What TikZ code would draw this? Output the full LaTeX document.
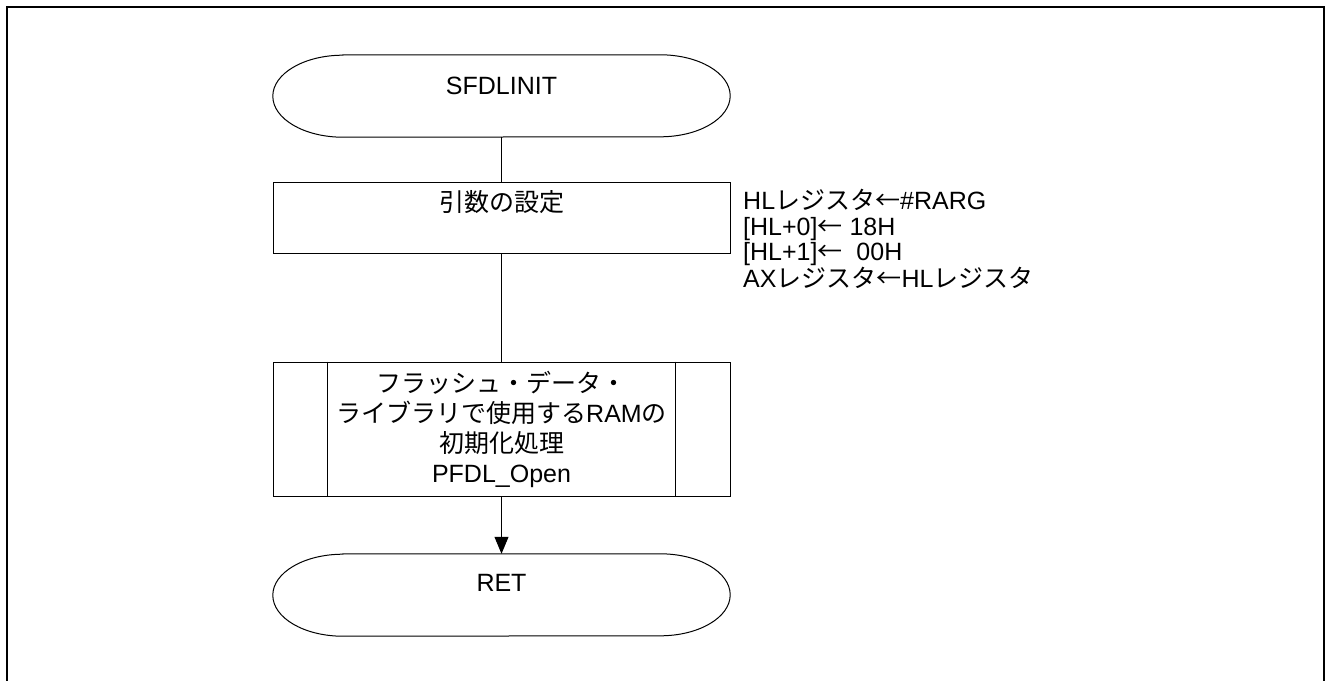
\documentclass[tikz,border=0pt]{standalone}
\usepackage{fontspec}
\setmainfont{Liberation Sans}
\newfontfamily\jp{Noto Sans CJK JP}
\usetikzlibrary{arrows.meta}

\newcommand\drawterm[1]{%
  \draw[flow] ([xshift=70pt]#1.north west) -- ([xshift=-70pt]#1.north east)
    arc[start angle=90, end angle=-90, x radius=70pt, y radius=41pt]
    -- ([xshift=70pt]#1.south west)
    arc[start angle=270, end angle=90, x radius=70pt, y radius=41pt] -- cycle;}
\newcommand\drawsubbars[1]{%
  \draw[flow] ([xshift=55pt]#1.north west) -- ([xshift=55pt]#1.south west);
  \draw[flow] ([xshift=-55pt]#1.north east) -- ([xshift=-55pt]#1.south east);}

\tikzset{
  flow/.style={line width=1pt},
  term/.style={minimum width=457pt, minimum height=82pt, inner sep=0pt, text height=17pt},
  procbox/.style={draw, flow, minimum width=457pt, minimum height=71pt, inner sep=0pt, text height=17pt},
  subbox/.style={draw, flow, minimum width=457pt, minimum height=134pt, inner sep=0pt, align=center},
  note/.style={anchor=north west, inner sep=0pt, align=left, font=\fontsize{25pt}{25.5pt}\selectfont}
}

\begin{document}
\begin{tikzpicture}[x=1pt, y=-1pt, font=\fontsize{25pt}{30pt}\selectfont]
  \useasboundingbox (0,0) rectangle (1327,680);

  % frame
  \draw[line width=2.5pt] (7,700) -- (7,7) -- (1324,7) -- (1324,700);

  % start
  \node[term, text depth=20pt] (start) at (501.5,96) {SFDLINIT};
  \drawterm{start}

  % arguments
  \node[procbox, text depth=29pt] (args) at (501.5,217.5) {\jp 引数の設定};
  \node[note] (regs) at (743,189) {HL{\jp レジスタ←}\#RARG\\{}[HL+0]{\jp ←} 18H\\{}[HL+1]{\jp ←}\ \ 00H\\AX{\jp レジスタ←}HL{\jp レジスタ}};

  % PFDL_Open
  \node[subbox] (open) at (501.5,429) {{\jp フラッシュ・データ・}\\{\jp ライブラリで使用する}RAM{\jp の}\\{\jp 初期化処理}\\PFDL\_Open};
  \drawsubbars{open}

  % return
  \node[term, text depth=24pt] (ret) at (501.5,595) {RET};
  \drawterm{ret}

  \draw[flow] (start) -- (args);
  \draw[flow] (args) -- (open);
  \draw[flow, -{Triangle[length=17pt, width=14pt]}] (open) -- (ret);
\end{tikzpicture}
\end{document}
